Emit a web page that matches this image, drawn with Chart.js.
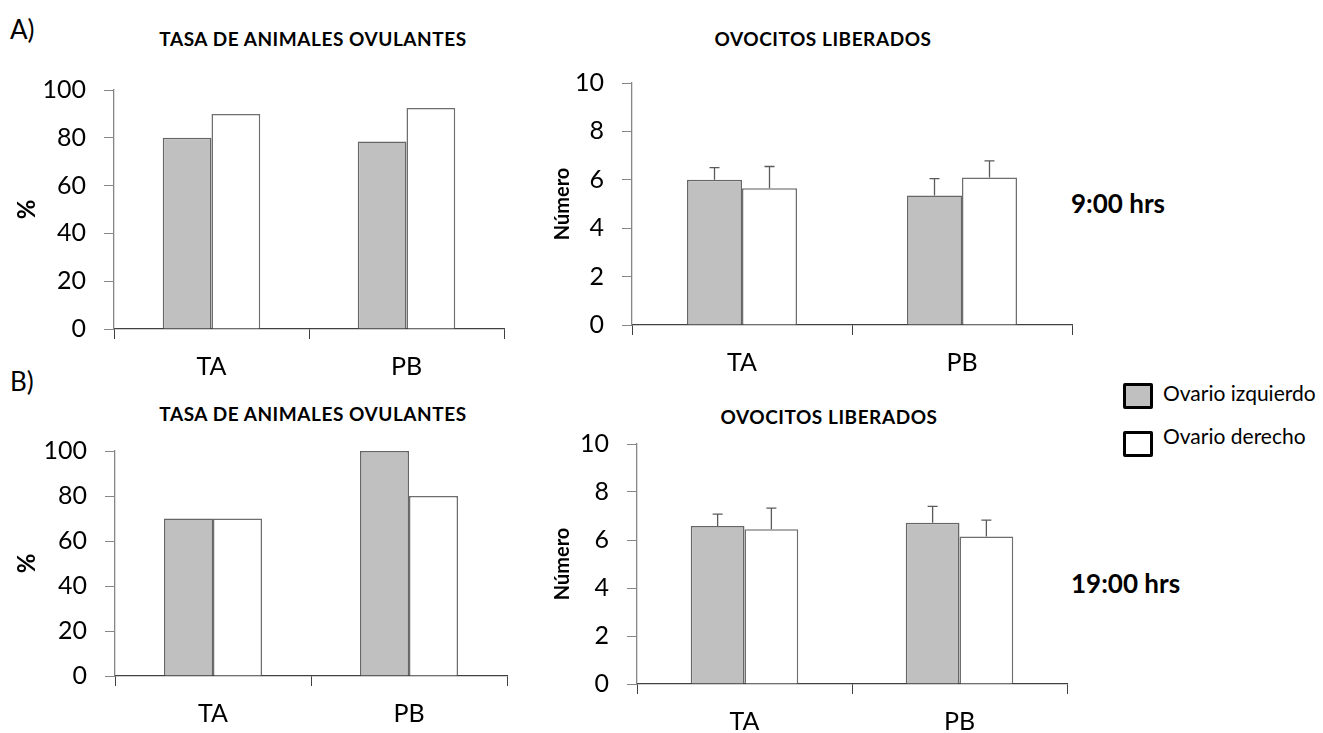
<!DOCTYPE html>
<html>
<head>
<meta charset="utf-8">
<script src="https://cdn.jsdelivr.net/npm/chart.js@4/dist/chart.umd.min.js"></script>
<style>
  html, body { margin: 0; padding: 0; background: #fff; }
  body { width: 1323px; height: 733px; position: relative; overflow: hidden; font-family: Lato, sans-serif; color: #000; }
  canvas { position: absolute; }
  .txt { position: absolute; white-space: nowrap; line-height: 1; transform: translateY(-50%); }
  .center { transform: translate(-50%, -50%); }
  .panel-label { font-size: 26px; }
  .title { font-weight: bold; font-size: 19px; letter-spacing: 0.55px; }
  .hour { font-weight: bold; font-size: 26px; }
  .legend { font-size: 21px; }
  .swatch { position: absolute; width: 24px; height: 20px; border: 3px solid #000; border-radius: 2px; }
</style>
</head>
<body>
<div class="txt panel-label" style="left:10px; top:29px;">A)</div>
<div class="txt panel-label" style="left:10px; top:381px;">B)</div>

<div class="txt title center" style="left:313px; top:38px;">TASA DE ANIMALES OVULANTES</div>
<div class="txt title center" style="left:823px; top:38px;">OVOCITOS LIBERADOS</div>
<div class="txt title center" style="left:313px; top:413px;">TASA DE ANIMALES OVULANTES</div>
<div class="txt title center" style="left:829px; top:416px;">OVOCITOS LIBERADOS</div>

<div class="txt hour" style="left:1071px; top:203px;">9:00 hrs</div>
<div class="txt hour" style="left:1071px; top:583px;">19:00 hrs</div>

<div class="swatch" style="left:1123px; top:383px; background:#c0c0c0;"></div>
<div class="txt legend" style="left:1163px; top:392px;">Ovario izquierdo</div>
<div class="swatch" style="left:1123px; top:431px; background:#fff;"></div>
<div class="txt legend" style="left:1163px; top:435px;">Ovario derecho</div>

<canvas id="a1" width="520" height="322" style="left:0px; top:57px;"></canvas>
<canvas id="a2" width="570" height="325" style="left:518px; top:50px;"></canvas>
<canvas id="b1" width="522" height="308" style="left:1px; top:418px;"></canvas>
<canvas id="b2" width="560" height="323" style="left:523px; top:411px;"></canvas>

<script>
const categories = ['TA', 'PB']
const pctTicks = [0, 20, 40, 60, 80, 100]
const numTicks = [0, 2, 4, 6, 8, 10]

// A) 9:00 hrs
const tasa9Izq = [80, 78.5]
const tasa9Der = [90, 92.5]
const ovo9Izq = [6.0, 5.35]
const ovo9Der = [5.65, 6.1]
const ovo9IzqErr = [0.5, 0.7]
const ovo9DerErr = [0.9, 0.68]

// B) 19:00 hrs
const tasa19Izq = [70, 100]
const tasa19Der = [70, 80]
const ovo19Izq = [6.58, 6.72]
const ovo19Der = [6.45, 6.15]
const ovo19IzqErr = [0.5, 0.68]
const ovo19DerErr = [0.88, 0.68]

Chart.defaults.font.family = "Lato, sans-serif"
Chart.defaults.color = "#000"

// upper-only error bars, drawn through the y scale
const errorBars = {
  id: "errorBars",
  afterDatasetsDraw(chart) {
    const { ctx } = chart
    const y = chart.scales.y
    chart.data.datasets.forEach((ds, i) => {
      if (!ds.errors) return
      const meta = chart.getDatasetMeta(i)
      meta.data.forEach((bar, j) => {
        const yTop = y.getPixelForValue(ds.data[j] + ds.errors[j])
        const yBase = y.getPixelForValue(ds.data[j])
        ctx.save()
        ctx.strokeStyle = "#5a5a5a"
        ctx.lineWidth = 1.3
        ctx.beginPath()
        ctx.moveTo(bar.x, yBase)
        ctx.lineTo(bar.x, yTop)
        ctx.moveTo(bar.x - 5, yTop)
        ctx.lineTo(bar.x + 5, yTop)
        ctx.stroke()
        ctx.restore()
      })
    })
  }
}

function makePanel(id, opts) {
  const ticks = opts.ticks
  return new Chart(document.getElementById(id), {
    type: "bar",
    data: {
      labels: categories,
      datasets: [
        {
          label: "Ovario izquierdo",
          data: opts.izq,
          errors: opts.izqErr,
          backgroundColor: "#c0c0c0",
          borderColor: "#666666",
          borderWidth: 1.5,
        },
        {
          label: "Ovario derecho",
          data: opts.der,
          errors: opts.derErr,
          backgroundColor: "#ffffff",
          borderColor: "#6e6e6e",
          borderWidth: 1.5,
        }
      ]
    },
    options: {
      responsive: false,
      animation: false,
      devicePixelRatio: 1,
      // top room comes from the y tick labels (half label + tick padding)
      layout: { padding: { top: 0, right: 16, left: 0, bottom: 0 } },
      plugins: {
        legend: { display: false },
        tooltip: { enabled: false },
      },
      datasets: { bar: { categoryPercentage: 0.5, barPercentage: 1.0 } },
      scales: {
        x: {
          grid: { offset: true, drawOnChartArea: false, tickLength: 10, color: "#404040" },
          border: { color: "#404040", width: 1.3 },
          ticks: { font: { size: 25 }, color: "#000", padding: 13 },
          afterFit: s => { s.height = 50 },
        },
        y: {
          min: 0,
          max: ticks[ticks.length - 1],
          afterBuildTicks: s => { s.ticks = ticks.map(v => ({ value: v })) },
          grid: { drawOnChartArea: false, tickLength: 10, color: "#868686" },
          border: { color: "#868686", width: 1.3 },
          ticks: { font: { size: 25 }, color: "#000", padding: 18 },
          title: {
            display: true,
            text: opts.yTitle,
            color: "#000",
            font: { size: opts.yTitleSize, weight: "bold" },
            padding: { top: opts.yTitlePad, bottom: 0 },
          },
          afterFit: s => { s.width = 114 },
        }
      }
    },
    plugins: [errorBars]
  })
}

makePanel("a1", { izq: tasa9Izq, der: tasa9Der, ticks: pctTicks, yTitle: "%", yTitleSize: 24, yTitlePad: 13 })
makePanel("a2", { izq: ovo9Izq, der: ovo9Der, izqErr: ovo9IzqErr, derErr: ovo9DerErr, ticks: numTicks, yTitle: "Número", yTitleSize: 20, yTitlePad: 33 })
makePanel("b1", { izq: tasa19Izq, der: tasa19Der, ticks: pctTicks, yTitle: "%", yTitleSize: 24, yTitlePad: 12 })
makePanel("b2", { izq: ovo19Izq, der: ovo19Der, izqErr: ovo19IzqErr, derErr: ovo19DerErr, ticks: numTicks, yTitle: "Número", yTitleSize: 20, yTitlePad: 28 })
</script>
</body>
</html>
